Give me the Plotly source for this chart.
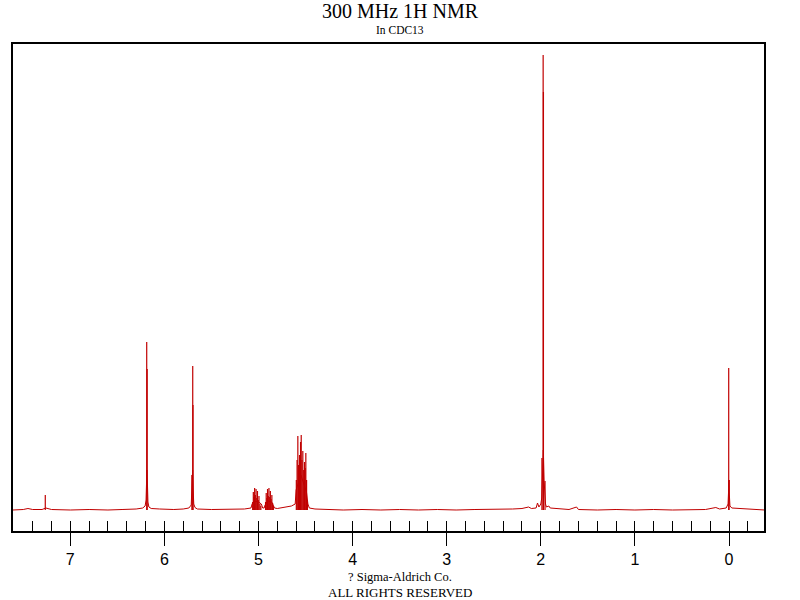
import plotly.graph_objects as go

# ---- data (ppm, intensity in arbitrary units) ----
# continuous baseline / line-foot curve
base_ppm = [7.61, 7.50, 7.45, 7.40, 7.30, 7.27, 7.26, 7.20, 7.00, 6.80,
            6.60, 6.45, 6.30, 6.23, 6.205, 6.195, 6.190, 6.186, 6.180, 6.175,
            6.165, 6.14, 6.05, 5.90, 5.80, 5.74, 5.715, 5.706, 5.700, 5.695,
            5.688, 5.675, 5.65, 5.50, 5.30, 5.15, 5.08, 5.068, 5.05, 5.00,
            4.97, 4.955, 4.94, 4.93, 4.90, 4.86, 4.845, 4.83, 4.80, 4.72,
            4.65, 4.61, 4.60, 4.55, 4.49, 4.475, 4.46, 4.40, 4.30, 4.10,
            3.90, 3.70, 3.50, 3.30, 3.10, 2.90, 2.70, 2.50, 2.30, 2.20,
            2.13, 2.10, 2.05, 2.035, 2.02, 2.00, 1.99, 1.980, 1.973, 1.965,
            1.958, 1.950, 1.94, 1.915, 1.90, 1.85, 1.80, 1.70, 1.62, 1.60,
            1.40, 1.20, 1.00, 0.80, 0.60, 0.40, 0.25, 0.14, 0.10, 0.03,
            0.01, 0.004, 0.000, -0.004, -0.01, -0.03, -0.10, -0.15, -0.25, -0.38]
base_int = [0, 0.5, 1.5, 0.5, 0.5, 2, 2, 0.5, 0, 0.5,
            0, 0.5, 1, 2, 4, 10, 30, 40, 25, 8,
            3, 1.5, 1, 0.5, 1, 2, 5, 20, 40, 22,
            6, 2.5, 1, 0.5, 0.5, 1, 2, 6, 9, 8,
            6, 2, 2, 5, 9, 8, 5, 2, 1.5, 3,
            4, 6, 20, 35, 18, 6, 2, 1, 0.5, 0,
            0.5, 0, 0.5, 0, 0.5, 0, 0.5, 0.5, 1, 1.5,
            3, 1.5, 2, 7, 3, 6, 12, 40, 60, 30,
            12, 6, 3, 4, 2, 1.5, 1, 0.5, 3, 0.5,
            0, 0.5, 0, 0.5, 0, 0.5, 0.5, 2.5, 1, 2,
            6, 20, 30, 15, 4, 2, 1.5, 1, 0.5, 0]

# sharp resonance lines
peak_ppm = [7.266,
            6.188, 6.183,
            5.708, 5.699, 5.696,
            5.062, 5.055, 5.048, 5.041, 5.034, 5.026, 5.018, 5.011, 5.003, 4.995, 4.985, 4.975,
            4.925, 4.918, 4.911, 4.904, 4.896, 4.889, 4.881, 4.874, 4.866, 4.858, 4.850, 4.842,
            4.598, 4.590, 4.582, 4.574, 4.564, 4.553, 4.546, 4.538, 4.529, 4.520, 4.511, 4.504,
            4.497, 4.489, 4.480,
            1.988, 1.975, 1.972, 1.955,
            0.003, 0.000]
peak_int = [15,
            168, 141,
            35, 144, 105,
            8, 18, 13, 22, 15, 21, 12, 19, 10, 14, 6, 4,
            8, 17, 12, 21, 14, 22, 13, 19, 11, 15, 7, 4,
            30, 50, 74, 45, 55, 68, 75, 50, 59, 40, 48, 42,
            57, 30, 10,
            52, 455, 418, 29,
            142, 30]

tick_vals = [0, 1, 2, 3, 4, 5, 6, 7]
tick_text = ["0", "1", "2", "3", "4", "5", "6", "7"]

title_text = "300 MHz 1H NMR"
subtitle_text = "In CDC13"
footer1 = "? Sigma-Aldrich Co."
footer2 = "ALL RIGHTS RESERVED"

# ---- figure ----
RED = "#C00000"
SERIF = "Liberation Serif, Times New Roman, serif"
x_range = [7.609, -0.372]
y_range = [-21, 466]

stick_x, stick_y = [], []
for p, h in zip(peak_ppm, peak_int):
    stick_x += [p, p, None]
    stick_y += [0, h, None]

fig = go.Figure()
fig.add_trace(go.Scatter(x=base_ppm, y=base_int, mode="lines",
                         line=dict(color=RED, width=1), hoverinfo="skip",
                         showlegend=False))
fig.add_trace(go.Scatter(x=stick_x, y=stick_y, mode="lines",
                         line=dict(color=RED, width=1.2), hoverinfo="skip",
                         showlegend=False))
# invisible trace to carry the minor-tick overlay axis
fig.add_trace(go.Scatter(x=[base_ppm[0]], y=[0], xaxis="x2", mode="lines",
                         line=dict(width=0), hoverinfo="skip", showlegend=False))

fig.update_layout(
    width=800, height=600,
    margin=dict(l=13, r=36, t=44, b=69),
    paper_bgcolor="white", plot_bgcolor="white",
    xaxis=dict(range=x_range, showgrid=False, zeroline=False,
               showline=True, mirror=True, linecolor="black", linewidth=1.5,
               ticks="outside", ticklen=13, tickwidth=1, tickcolor="black",
               tickvals=tick_vals, ticktext=tick_text,
               tickfont=dict(family="Arial, Liberation Sans, sans-serif", size=16, color="black")),
    xaxis2=dict(range=x_range, overlaying="x", side="bottom", showgrid=False,
                zeroline=False, showline=False, ticks="inside", ticklen=10,
                tickwidth=1, tickcolor="black", tick0=0, dtick=0.2,
                showticklabels=False),
    yaxis=dict(range=y_range, showgrid=False, zeroline=False, showticklabels=False,
               ticks="", showline=True, mirror=True, linecolor="black", linewidth=1.5),
    title=dict(text=title_text, x=0.5, xanchor="center", y=1 - 11 / 600, yanchor="middle",
               font=dict(family=SERIF, size=20, color="black")),
    annotations=[
        dict(text=subtitle_text, xref="paper", yref="paper", x=0.515, y=(531 - 30) / 487,
             showarrow=False, xanchor="center", yanchor="middle",
             font=dict(family=SERIF, size=11.5, color="black")),
        dict(text=footer1, xref="paper", yref="paper", x=0.515, y=(531 - 577) / 487,
             showarrow=False, xanchor="center", yanchor="middle",
             font=dict(family=SERIF, size=12.5, color="black")),
        dict(text=footer2, xref="paper", yref="paper", x=0.515, y=(531 - 592) / 487,
             showarrow=False, xanchor="center", yanchor="middle",
             font=dict(family=SERIF, size=13, color="black")),
    ],
)

# remove the browser's default 8px body margin so the figure sits at the page origin
fig.write_html("out.html", config={"displayModeBar": False},
               post_script="document.body.style.margin='0';")
